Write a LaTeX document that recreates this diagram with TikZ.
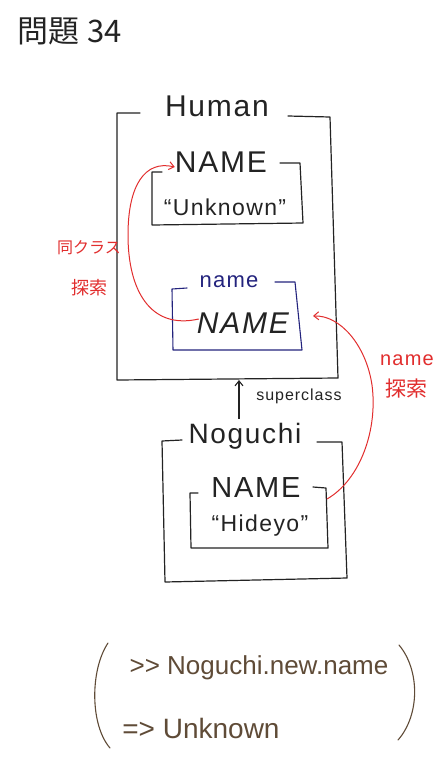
\documentclass[tikz,border=0pt]{standalone}
\usepackage{fontspec}
\setmainfont{Liberation Sans}
\newfontfamily\hand[LetterSpace=6]{Liberation Sans}
\newfontfamily\handplain{Liberation Sans}
\newfontfamily\jp{Noto Sans CJK JP}
\usetikzlibrary{arrows.meta}
\definecolor{ink}{RGB}{35,35,35}
\definecolor{pen}{RGB}{225,45,45}
\definecolor{navy}{RGB}{35,35,125}
\definecolor{brn}{RGB}{95,75,55}
\tikzset{
  frame/.style={draw=ink, line width=1.2pt, line cap=round, line join=round},
  nframe/.style={draw=navy, line width=1.1pt, line cap=round, line join=round},
  redarrow/.style={draw=pen, line width=1pt, -{Straight Barb[length=5pt,width=8pt]}},
  blkarrow/.style={draw=ink, line width=1.1pt, -{Straight Barb[length=5pt,width=8pt]}},
  lbl/.style={inner sep=0pt, text=ink},
  rlbl/.style={inner sep=0pt, text=pen, font=\jp\fontsize{16}{18}\selectfont},
}
\begin{document}
\begin{tikzpicture}[x=1pt,y=-1pt]
\useasboundingbox (0,0) rectangle (441,758);
% title
\node[lbl, font=\jp\fontsize{31}{33}\selectfont] (title) at (70,31) {問題\hspace{8pt}34};

% Human box
\node[lbl, font=\hand\fontsize{30}{32}\selectfont] (human) at (217,106) {Human};
\draw[frame] (140,113) -- (117,113) -- (117,380) -- (338,378) -- (330,117) -- (288,116);

% inner box 1
\node[lbl, font=\hand\fontsize{30}{32}\selectfont] (name1) at (221,162) {NAME};
\node[lbl, font=\hand\fontsize{23}{25}\selectfont] (val1) at (225,207) {“Unknown”};
\draw[frame] (162,172) -- (152,172) -- (152,225) -- (303,223) -- (300,163) -- (280,163);

% inner box 2 (navy)
\node[lbl, text=navy, font=\hand\fontsize{22}{24}\selectfont] (lname) at (229,282) {name};
\node[lbl, font=\hand\itshape\fontsize{30}{32}\selectfont] (name2) at (243,323) {NAME};
\draw[nframe] (187,288) -- (172,289) -- (173,350) -- (302,350) -- (295,282) -- (275,282);

% superclass arrow
\node[lbl, font=\hand\fontsize{16}{18}\selectfont] (sup) at (299,396) {superclass};

% Noguchi box
\node[lbl, font=\hand\fontsize{28}{30}\selectfont] (nog) at (245,436) {Noguchi};
\draw[frame] (182,440) -- (162,441) -- (165,582) -- (347,578) -- (342,442) -- (317,442);
\draw[blkarrow] (nog.north -| 239,0) ++(0,-4) coordinate (supfrom) -- (239,380) coordinate (supto);

% inner box 3
\node[lbl, font=\hand\fontsize{29}{31}\selectfont] (name3) at (256,488) {NAME};
\node[lbl, font=\hand\fontsize{23}{25}\selectfont] (val3) at (260,526) {“Hideyo”};
\draw[frame] (198,493) -- (190,493) -- (191,548) -- (328,548) -- (326,488) -- (313,487);

% red search arrows
\coordinate (r1s) at ([xshift=2pt,yshift=4pt]name2.west);
\coordinate (r1e) at (name1.west);
\draw[redarrow] (r1s) .. controls (150,330) and (128,290) .. (128,235)
   .. controls (128,185) and (145,160) .. ([xshift=0pt,yshift=-5pt]r1e);
\node[rlbl] (same1) at (89,248) {同クラス};
\node[rlbl, font=\jp\fontsize{18}{20}\selectfont] (same2) at (89,288) {探索};

\coordinate (r2s) at (327,499);
\draw[redarrow] (r2s) .. controls (360,480) and (378,430) .. (372,385)
   .. controls (366,345) and (340,315) .. (313,316);
\node[rlbl, font=\hand\fontsize{20}{22}\selectfont, text=pen] (sn1) at (407,360) {name};
\node[rlbl, font=\jp\fontsize{21}{23}\selectfont] (sn2) at (406,389) {探索};

% bottom
\node[lbl, text=brn, font=\handplain\fontsize{26}{28}\selectfont] (cmd) at (259,668) {>> Noguchi.new.name};
\node[lbl, text=brn, font=\handplain\fontsize{28}{30}\selectfont] (res) at (201,728) {=> Unknown};
\coordinate (lpa) at (108,643);
\coordinate (lpb) at (110,748);
\coordinate (rpa) at (399,645);
\coordinate (rpb) at (398,740);
\draw[draw=brn, line width=1.1pt, line cap=round] (lpa) .. controls (90,670) and (90,725) .. (lpb);
\draw[draw=brn, line width=1.1pt, line cap=round] (rpa) .. controls (420,670) and (420,715) .. (rpb);
\end{tikzpicture}
\end{document}
